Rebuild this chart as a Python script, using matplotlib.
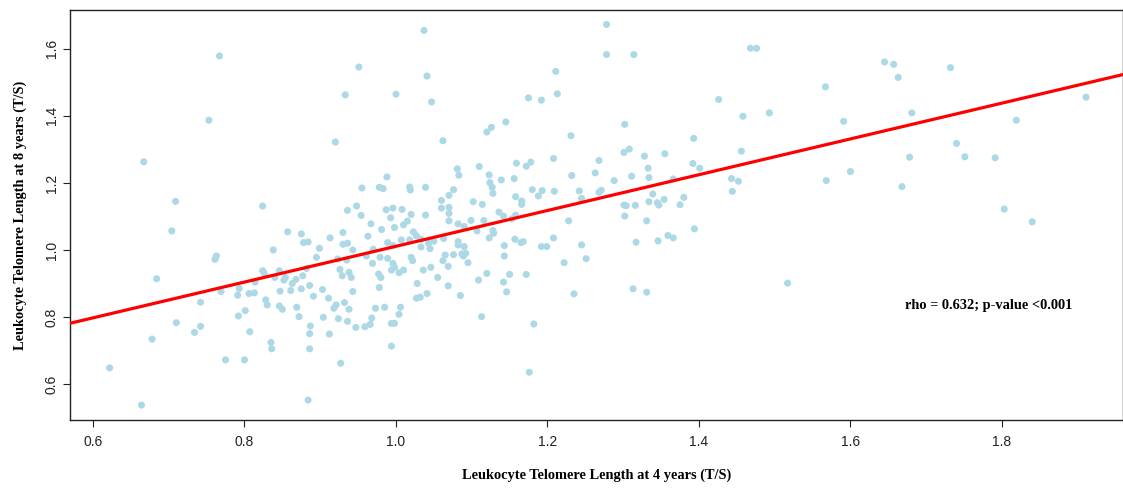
import numpy as np
import matplotlib
matplotlib.use("Agg")
import matplotlib.pyplot as plt

# LTL at 4 years (x) vs LTL at 8 years (y), T/S ratio
ltl_4y = [
    0.767, 0.753, 0.667, 0.709, 0.704, 0.763, 0.761, 0.684, 0.769, 0.793,
    0.791, 0.806, 0.742, 0.801, 0.792, 0.710, 0.742, 0.734, 0.807, 0.678,
    0.775, 0.800, 0.622, 0.664,
    1.037, 0.951, 1.041, 0.933, 1.000, 1.047, 1.175, 1.192,
    0.920, 0.824, 0.936, 0.857, 0.875, 0.878, 0.884, 0.913, 0.930, 0.930,
    0.936, 0.899, 0.838,
    1.062, 0.988, 0.955, 0.978, 0.983, 1.018, 1.019, 1.039, 1.060, 1.070,
    1.060, 1.070, 0.948, 0.987, 0.996, 1.008, 0.954, 0.993, 1.020, 1.039,
    1.070, 1.070, 0.967, 1.010, 1.015, 0.998, 0.981, 1.023, 1.027, 0.963,
    1.033, 0.989, 0.996, 1.007, 1.018, 1.043, 1.050, 1.045, 1.033, 0.943,
    0.970, 1.063,
    1.120, 1.126, 1.145, 1.081, 1.083, 1.110, 1.123, 1.139, 1.156, 1.159,
    1.172, 1.178, 1.124, 1.127, 1.128, 1.076, 1.180, 1.193, 1.188, 1.158,
    1.102, 1.114, 1.166, 1.166, 1.136, 1.142, 1.158, 1.153, 1.099, 1.116,
    1.082, 1.090, 1.107, 1.128, 1.129, 1.082, 1.082, 1.090, 1.123, 1.143,
    1.157, 1.165, 1.168, 1.192, 1.199,
    0.895, 0.824, 0.826, 0.814, 0.846, 0.840, 0.852, 0.854, 0.863, 0.868,
    0.877, 0.882, 0.886, 0.875, 0.861, 0.847, 0.813, 0.891, 0.903, 0.911,
    0.926, 0.929, 0.938, 0.923, 0.935, 0.828, 0.830, 0.846, 0.850, 0.869,
    0.872, 0.918, 0.921, 0.932, 0.938, 0.904, 0.924, 0.936, 0.835, 0.836,
    0.887, 0.886, 0.886, 0.912, 0.927, 0.884,
    0.961, 0.979, 0.989, 0.969, 0.996, 0.998, 0.994, 1.004, 1.010, 1.020,
    1.022, 0.941, 0.977, 0.980, 1.036, 1.046, 1.062, 1.065, 1.069, 1.055,
    1.028, 0.978, 0.943, 1.069, 1.041, 1.027, 1.032, 0.973, 0.985, 1.006,
    1.004, 0.968, 0.966, 0.947, 0.959, 0.994, 0.998, 0.994,
    1.076, 1.087, 1.092, 1.089, 1.095, 1.085, 1.143, 1.120, 1.109, 1.150,
    1.142, 1.146, 1.172, 1.113, 1.182, 1.176,
    1.278, 1.278, 1.314, 1.211, 1.213, 1.302, 1.231, 1.393, 1.208, 1.301,
    1.308, 1.328, 1.355, 1.268, 1.392, 1.401, 1.333, 1.232, 1.263, 1.311,
    1.334, 1.288, 1.366, 1.209, 1.242, 1.245, 1.268, 1.271, 1.339, 1.334,
    1.345, 1.347, 1.354, 1.301, 1.304, 1.316, 1.380, 1.375,
    1.228, 1.302, 1.331, 1.394, 1.208, 1.245, 1.317, 1.346, 1.359, 1.366,
    1.251, 1.222, 1.235, 1.313, 1.331,
    1.468, 1.476, 1.645, 1.657, 1.663, 1.567, 1.426, 1.458, 1.493, 1.591,
    1.681, 1.456, 1.678, 1.443, 1.452, 1.444, 1.568, 1.600, 1.668, 1.517,
    1.732, 1.911, 1.819, 1.740, 1.751, 1.791, 1.803, 1.840,
]

ltl_8y = [
    1.579, 1.387, 1.263, 1.145, 1.057, 0.982, 0.972, 0.914, 0.876, 0.885,
    0.865, 0.870, 0.844, 0.819, 0.803, 0.783, 0.772, 0.754, 0.756, 0.734,
    0.672, 0.672, 0.648, 0.537,
    1.655, 1.546, 1.519, 1.463, 1.465, 1.442, 1.454, 1.447,
    1.322, 1.131, 1.118, 1.054, 1.048, 1.022, 1.024, 1.036, 1.052, 1.017,
    1.020, 1.005, 1.000,
    1.326, 1.218, 1.185, 1.187, 1.183, 1.188, 1.179, 1.187, 1.148, 1.163,
    1.125, 1.127, 1.131, 1.120, 1.125, 1.121, 1.103, 1.096, 1.106, 1.104,
    1.109, 1.087, 1.078, 1.075, 1.086, 1.067, 1.061, 1.054, 1.042, 1.041,
    1.032, 1.022, 1.013, 1.030, 1.030, 1.020, 1.026, 1.004, 1.009, 1.000,
    1.002, 1.034,
    1.352, 1.366, 1.382, 1.242, 1.223, 1.249, 1.224, 1.209, 1.213, 1.259,
    1.250, 1.262, 1.201, 1.187, 1.169, 1.180, 1.180, 1.177, 1.161, 1.159,
    1.144, 1.136, 1.146, 1.136, 1.113, 1.101, 1.104, 1.093, 1.088, 1.088,
    1.078, 1.070, 1.057, 1.058, 1.050, 1.025, 1.015, 1.010, 1.036, 1.013,
    1.032, 1.022, 1.025, 1.010, 1.010,
    0.978, 0.938, 0.930, 0.904, 0.938, 0.918, 0.910, 0.918, 0.900, 0.912,
    0.923, 0.945, 0.894, 0.884, 0.879, 0.877, 0.872, 0.862, 0.882, 0.856,
    0.942, 0.923, 0.933, 0.973, 0.970, 0.851, 0.836, 0.833, 0.823, 0.829,
    0.801, 0.826, 0.836, 0.843, 0.823, 0.799, 0.795, 0.787, 0.724, 0.705,
    0.773, 0.750, 0.705, 0.749, 0.662, 0.552,
    0.982, 0.978, 0.975, 0.960, 0.960, 0.948, 0.940, 0.932, 0.940, 0.978,
    0.968, 0.918, 0.928, 0.918, 0.940, 0.948, 0.968, 0.985, 0.951, 0.918,
    0.900, 0.888, 0.876, 0.893, 0.870, 0.856, 0.859, 0.826, 0.829, 0.829,
    0.808, 0.797, 0.778, 0.769, 0.771, 0.781, 0.781, 0.713,
    0.986, 0.988, 0.990, 0.982, 0.962, 0.864, 0.982, 0.930, 0.910, 0.927,
    0.904, 0.875, 0.927, 0.801, 0.779, 0.635,
    1.673, 1.583, 1.583, 1.533, 1.466, 1.375, 1.341, 1.333, 1.273, 1.291,
    1.301, 1.280, 1.287, 1.267, 1.258, 1.244, 1.244, 1.222, 1.230, 1.220,
    1.216, 1.207, 1.212, 1.175, 1.176, 1.154, 1.172, 1.178, 1.167, 1.144,
    1.141, 1.134, 1.151, 1.134, 1.132, 1.133, 1.157, 1.135,
    1.087, 1.101, 1.087, 1.063, 1.036, 1.015, 1.023, 1.027, 1.043, 1.036,
    0.974, 0.962, 0.869, 0.884, 0.874,
    1.602, 1.602, 1.561, 1.554, 1.515, 1.487, 1.449, 1.399, 1.409, 1.384,
    1.409, 1.295, 1.277, 1.213, 1.205, 1.175, 1.207, 1.234, 1.189, 0.901,
    1.544, 1.456, 1.387, 1.318, 1.278, 1.275, 1.122, 1.084,
]

# fitted line
fit_intercept = 0.477
fit_slope = 0.534

x_ticks = [0.6, 0.8, 1.0, 1.2, 1.4, 1.6, 1.8]
y_ticks = [0.6, 0.8, 1.0, 1.2, 1.4, 1.6]
stat_text = "rho = 0.632; p-value <0.001"

fig = plt.figure(figsize=(11.23, 4.92), dpi=100)
ax = fig.add_axes([0.0623, 0.1463, 0.9377, 0.8333])

ax.scatter(ltl_4y, ltl_8y, s=26, color="#ADD8E6", edgecolors="none", zorder=2)
ax.axline((0, fit_intercept), slope=fit_slope, color="#FF0000", linewidth=2.3, zorder=3)

ax.set_xlim(0.5696, 1.9598)
ax.set_ylim(0.4925, 1.716)

ax.set_xticks(x_ticks)
ax.set_yticks(y_ticks)
ax.set_xticklabels([f"{v:.1f}" for v in x_ticks])
ax.set_yticklabels([f"{v:.1f}" for v in y_ticks], rotation=90, va="center")
ax.tick_params(direction="out", length=5, width=0.8, labelsize=10, colors="#222222")
ax.tick_params(axis="x", pad=6)
ax.tick_params(axis="y", pad=3)
for lab in ax.get_xticklabels() + ax.get_yticklabels():
    lab.set_family("Liberation Sans")

for side in ["left", "top", "right", "bottom"]:
    ax.spines[side].set_color("#222222")
    ax.spines[side].set_linewidth(1.0)

serif_bold = dict(family="Liberation Serif", weight="bold", size=10.4)
ax.set_xlabel("Leukocyte Telomere Length at 4 years (T/S)", labelpad=14, **serif_bold)
ax.set_ylabel("Leukocyte Telomere Length at 8 years (T/S)", labelpad=13, **serif_bold)

ax.text(1.672, 0.833, stat_text, va="center", ha="left", **serif_bold)

fig.savefig("out.png", dpi=100)
